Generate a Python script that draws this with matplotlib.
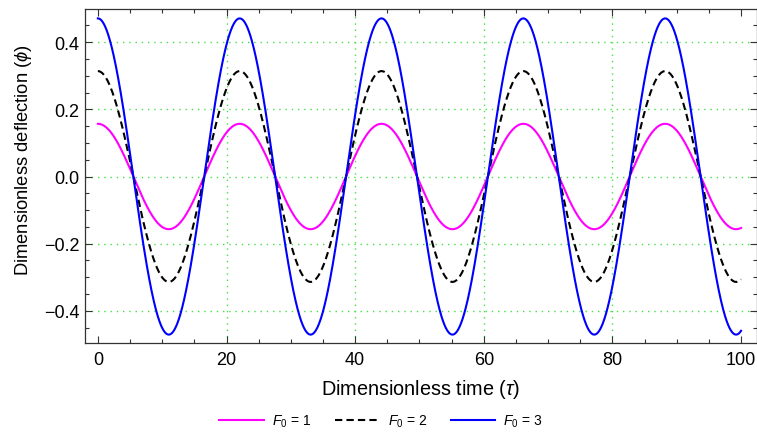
import numpy as np
import matplotlib
matplotlib.use('Agg')
import matplotlib.pyplot as plt
from matplotlib.ticker import MultipleLocator

# values
F0_values = [1, 2, 3]
amplitudes = [0.157, 0.314, 0.471]   # peak deflection for each F0
period = 22.05                       # oscillation period in tau
colors = ['#ff00ff', 'black', '#0000ff']
styles = ['-', '--', '-']

tau = np.linspace(0, 100, 2001)

plt.rcParams['font.family'] = ['Liberation Sans', 'DejaVu Sans']
plt.rcParams['mathtext.fontset'] = 'custom'
plt.rcParams['mathtext.rm'] = 'Liberation Sans'
plt.rcParams['mathtext.it'] = 'Liberation Sans:italic'

fig = plt.figure(figsize=(7.57, 4.35), dpi=100)
ax = fig.add_axes([85 / 757, 91 / 435, 671.5 / 757, 334 / 435])

for F0, amp, c, ls in zip(F0_values, amplitudes, colors, styles):
    phi = amp * np.cos(2 * np.pi * tau / period)
    line, = ax.plot(tau, phi, color=c, linestyle=ls, lw=1.5,
                    label=r'$F_0$ = %d' % F0)
    if ls == '--':
        line.set_dashes((3.5, 2))

ax.set_xlim(-2, 102.4)
ax.set_ylim(-0.496, 0.499)
ax.xaxis.set_major_locator(MultipleLocator(20))
ax.xaxis.set_minor_locator(MultipleLocator(5))
ax.yaxis.set_major_locator(MultipleLocator(0.2))
ax.yaxis.set_minor_locator(MultipleLocator(0.05))
ax.yaxis.set_major_formatter(lambda v, p: ('%.1f' % v).replace('-', '\u2212'))

ax.tick_params(which='both', direction='in', top=True, right=True,
               labelsize=13, color='#333333')
ax.tick_params(which='major', length=5, width=0.8)
ax.tick_params(which='minor', length=3, width=0.8)
ax.tick_params(axis='x', pad=6)
ax.tick_params(axis='y', pad=4)
for s in ax.spines.values():
    s.set_color('#333333')
    s.set_linewidth(0.9)

# dotted green grid
for x in [20, 40, 60, 80]:
    ax.axvline(x, color='#44e044', ls=(0, (1, 3.5)), lw=1, zorder=0)
for y in [-0.4, -0.2, 0.0, 0.2, 0.4]:
    ax.axhline(y, color='#44e044', ls=(0, (1, 3.5)), lw=1, zorder=0)

ax.set_xlabel(r'Dimensionless time ($\tau$)', fontsize=14.3, labelpad=6)
ax.set_ylabel(r'Dimensionless deflection ($\phi$)', fontsize=13.2)
ax.yaxis.set_label_coords(-0.076, 0.551)

fig.legend(loc='center', bbox_to_anchor=(381 / 757, 1 - 422 / 435), ncol=3,
           frameon=False, fontsize=10, handlelength=3.2, handletextpad=0.6,
           columnspacing=1.7)

fig.savefig('out.png', dpi=100)
